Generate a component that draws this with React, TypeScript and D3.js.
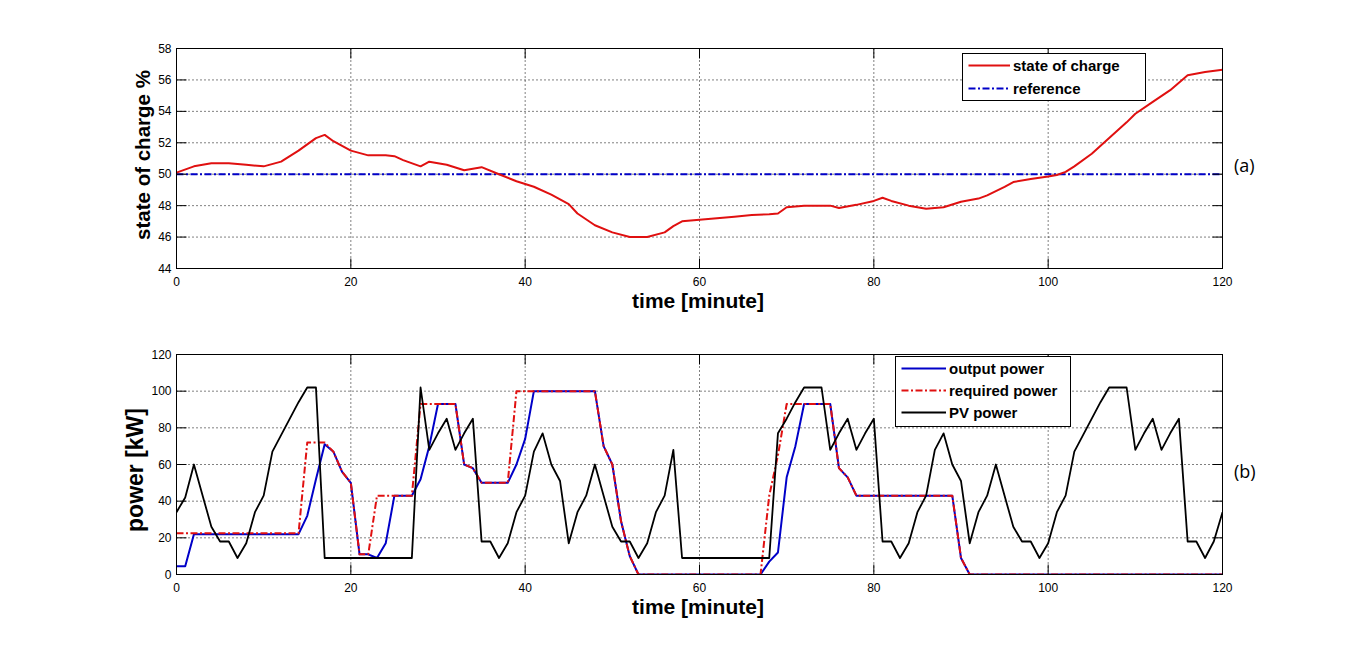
import React from "react";
import * as d3 from "d3";

// state of charge (panel a)
const socMinutes = [0, 2, 4, 6, 8, 10, 12, 14, 16, 17, 18, 20, 22, 24, 25, 26, 28, 29, 31, 33, 35, 37, 39, 41, 43, 45, 46, 48, 50, 52, 54, 56, 57, 58, 60, 62, 64, 66, 68, 69, 70, 72, 74, 75, 76, 78, 80, 81, 82, 84, 86, 88, 90, 92, 93, 95, 96, 98, 100, 101, 102, 103, 105, 107, 109, 110, 112, 114, 116, 118, 120];
const socValues = [50.1, 50.5, 50.7, 50.7, 50.6, 50.5, 50.8, 51.5, 52.3, 52.5, 52.1, 51.5, 51.2, 51.2, 51.15, 50.9, 50.5, 50.8, 50.6, 50.25, 50.45, 50.0, 49.55, 49.2, 48.7, 48.1, 47.5, 46.75, 46.3, 46.0, 46.0, 46.3, 46.7, 47.0, 47.1, 47.2, 47.3, 47.4, 47.45, 47.5, 47.9, 48.0, 48.0, 48.0, 47.85, 48.05, 48.3, 48.5, 48.3, 48.0, 47.8, 47.9, 48.25, 48.45, 48.65, 49.2, 49.5, 49.7, 49.85, 49.95, 50.15, 50.5, 51.3, 52.3, 53.3, 53.85, 54.6, 55.35, 56.3, 56.5, 56.65];
const socReference = 50;

// power (panel b), one value per minute 0..120
const outputPower = [4.5, 4.5, 22, 22, 22, 22, 22, 22, 22, 22, 22, 22, 22, 22, 22, 32, 52, 71, 67, 56, 50, 11, 11, 9, 17, 43, 43, 43, 52, 70, 93, 93, 93, 60, 58, 50, 50, 50, 50, 60, 74, 100, 100, 100, 100, 100, 100, 100, 100, 70, 60, 29, 10, 0, 0, 0, 0, 0, 0, 0, 0, 0, 0, 0, 0, 0, 0, 0, 7, 12, 53, 70, 93, 93, 93, 93, 58, 53, 43, 43, 43, 43, 43, 43, 43, 43, 43, 43, 43, 43, 9, 0, 0, 0, 0, 0, 0, 0, 0, 0, 0, 0, 0, 0, 0, 0, 0, 0, 0, 0, 0, 0, 0, 0, 0, 0, 0, 0, 0, 0, 0];
const requiredPower = [22.5, 22.5, 22.5, 22.5, 22.5, 22.5, 22.5, 22.5, 22.5, 22.5, 22.5, 22.5, 22.5, 22.5, 22.5, 72, 72, 72, 67, 56, 50, 11, 11, 43, 43, 43, 43, 43, 93, 93, 93, 93, 93, 60, 58, 50, 50, 50, 50, 100, 100, 100, 100, 100, 100, 100, 100, 100, 100, 70, 60, 29, 10, 0, 0, 0, 0, 0, 0, 0, 0, 0, 0, 0, 0, 0, 0, 0, 43, 65, 93, 93, 93, 93, 93, 93, 58, 53, 43, 43, 43, 43, 43, 43, 43, 43, 43, 43, 43, 43, 9, 0, 0, 0, 0, 0, 0, 0, 0, 0, 0, 0, 0, 0, 0, 0, 0, 0, 0, 0, 0, 0, 0, 0, 0, 0, 0, 0, 0, 0, 0];
const pvPower = [34, 42, 60, 43, 26, 18, 18, 9, 17, 34, 43, 67, 76, 85, 94, 102, 102, 9, 9, 9, 9, 9, 9, 9, 9, 9, 9, 9, 102, 68, 77, 85, 68, 77, 85, 18, 18, 9, 17, 34, 43, 67, 77, 60, 51, 17, 34, 43, 60, 43, 26, 18, 18, 9, 17, 34, 43, 68, 9, 9, 9, 9, 9, 9, 9, 9, 9, 9, 9, 77, 85, 94, 102, 102, 102, 68, 77, 85, 68, 77, 85, 18, 18, 9, 17, 34, 43, 68, 77, 60, 51, 17, 34, 43, 60, 43, 26, 18, 18, 9, 17, 34, 43, 67, 76, 85, 94, 102, 102, 102, 68, 77, 85, 68, 77, 85, 18, 18, 9, 18, 34];
const powerMinutes = outputPower.map((_, i) => i);

const timeTicks = [0, 20, 40, 60, 80, 100, 120];
const socTicks = [44, 46, 48, 50, 52, 54, 56, 58];
const powerTicks = [0, 20, 40, 60, 80, 100, 120];

const W = 1351;
const H = 645;
const left = 176.5;
const right = 1222.5;
const sans = "'Liberation Sans', Arial, sans-serif";
const RED = "#e01010";
const BLUE = "#0000c8";
const DASHDOT = "7,2.5,2,2.5";

type PanelProps = {
  top: number;
  bottom: number;
  yDomain: [number, number];
  yTicks: number[];
  yLabel: string;
  yLabelSize: number;
  yLabelX: number;
  yLabelY: number;
  tag: string;
  children: (x: d3.ScaleLinear<number, number>, y: d3.ScaleLinear<number, number>) => React.ReactNode;
};

const Panel = ({ top, bottom, yDomain, yTicks, yLabel, yLabelSize, yLabelX, yLabelY, tag, children }: PanelProps) => {
  const x = d3.scaleLinear().domain([0, 120]).range([left, right]);
  const y = d3.scaleLinear().domain(yDomain).range([bottom, top]);
  const tl = 10;
  const mid = (top + bottom) / 2;
  return (
    <g>
      {/* grid */}
      <g stroke="#000" strokeWidth={1} strokeDasharray="1,3">
        {timeTicks.slice(1, -1).map((t) => (
          <line key={"gx" + t} x1={x(t)} x2={x(t)} y1={top} y2={bottom} />
        ))}
        {yTicks.slice(1, -1).map((t) => (
          <line key={"gy" + t} x1={left} x2={right} y1={y(t)} y2={y(t)} />
        ))}
      </g>
      <g clipPath={`url(#clip-${tag})`}>{children(x, y)}</g>
      <clipPath id={`clip-${tag}`}>
        <rect x={left} y={top} width={right - left} height={bottom - top} />
      </clipPath>
      {/* box and ticks */}
      <rect x={left} y={top} width={right - left} height={bottom - top} fill="none" stroke="#000" strokeWidth={1} />
      <g stroke="#000" strokeWidth={1}>
        {timeTicks.map((t) => (
          <g key={"tx" + t}>
            <line x1={x(t)} x2={x(t)} y1={bottom} y2={bottom - tl} />
            <line x1={x(t)} x2={x(t)} y1={top} y2={top + tl} />
          </g>
        ))}
        {yTicks.map((t) => (
          <g key={"ty" + t}>
            <line x1={left} x2={left + tl} y1={y(t)} y2={y(t)} />
            <line x1={right} x2={right - tl} y1={y(t)} y2={y(t)} />
          </g>
        ))}
      </g>
      <g fontFamily={sans} fontSize={12} fill="#000">
        {timeTicks.map((t) => (
          <text key={"lx" + t} x={x(t)} y={bottom + 17} textAnchor="middle">
            {t}
          </text>
        ))}
        {yTicks.map((t) => (
          <text key={"ly" + t} x={left - 5} y={y(t) + 4} textAnchor="end">
            {t}
          </text>
        ))}
      </g>
      <text x={698} y={bottom + 39} textAnchor="middle" fontFamily={sans} fontWeight="bold" fontSize={21}>
        time [minute]
      </text>
      <text
        transform={`translate(${yLabelX},${yLabelY}) rotate(-90)`}
        textAnchor="middle"
        fontFamily={sans}
        fontWeight="bold"
        fontSize={yLabelSize}
      >
        {yLabel}
      </text>
      <text x={1234} y={mid + 13} fontFamily="'Open Sans', sans-serif" fontSize={18}>
        ({tag})
      </text>
    </g>
  );
};

type LegendItem = { label: string; color: string; dash?: string };

const Legend = ({ x, y, w, h, x2, items, rowGap }: { x: number; y: number; w: number; h: number; x2: number; items: LegendItem[]; rowGap: number }) => (
  <g>
    <rect x={x} y={y} width={w} height={h} fill="#fff" stroke="#000" strokeWidth={1} />
    {items.map((it, i) => {
      const cy = y + 12 + i * rowGap;
      return (
        <g key={it.label}>
          <line x1={x + 6} x2={x2} y1={cy} y2={cy} stroke={it.color} strokeWidth={2} strokeDasharray={it.dash} />
          <text x={x2 + 3} y={cy + 5} fontFamily={sans} fontWeight="bold" fontSize={15}>
            {it.label}
          </text>
        </g>
      );
    })}
  </g>
);

export default function App() {
  return (
    <svg width={W} height={H} style={{ position: "absolute", left: 0, top: 0, background: "#fff" }}>
      <rect width={W} height={H} fill="#fff" />
      <Panel
        top={48.5}
        bottom={268.5}
        yDomain={[44, 58]}
        yTicks={socTicks}
        yLabel="state of charge %"
        yLabelSize={20.5}
        yLabelX={150}
        yLabelY={155}
        tag="a"
      >
        {(x, y) => {
          const soc = d3
            .line<number>()
            .x((_, i) => x(socMinutes[i]))
            .y((d) => y(d));
          return (
            <g fill="none">
              <line x1={x(0)} x2={x(120)} y1={y(socReference)} y2={y(socReference)} stroke={BLUE} strokeWidth={2} strokeDasharray={DASHDOT} />
              <path d={soc(socValues) || ""} stroke={RED} strokeWidth={2} strokeLinejoin="round" />
            </g>
          );
        }}
      </Panel>
      <Panel
        top={354.5}
        bottom={574.5}
        yDomain={[0, 120]}
        yTicks={powerTicks}
        yLabel="power [kW]"
        yLabelSize={23}
        yLabelX={143}
        yLabelY={470}
        tag="b"
      >
        {(x, y) => {
          const ln = d3
            .line<number>()
            .x((_, i) => x(powerMinutes[i]))
            .y((d) => y(d));
          return (
            <g fill="none" strokeLinejoin="round">
              <path d={ln(outputPower) || ""} stroke={BLUE} strokeWidth={2} />
              <path d={ln(requiredPower) || ""} stroke={RED} strokeWidth={2} strokeDasharray={DASHDOT} />
              <path d={ln(pvPower) || ""} stroke="#000" strokeWidth={1.8} />
            </g>
          );
        }}
      </Panel>
      <Legend
        x={962.5}
        y={53.5}
        w={183}
        h={47}
        x2={1010}
        rowGap={23}
        items={[
          { label: "state of charge", color: RED },
          { label: "reference", color: BLUE, dash: DASHDOT },
        ]}
      />
      <Legend
        x={895.5}
        y={356.5}
        w={175}
        h={70}
        x2={946}
        rowGap={22}
        items={[
          { label: "output power", color: BLUE },
          { label: "required power", color: RED, dash: DASHDOT },
          { label: "PV power", color: "#000" },
        ]}
      />
    </svg>
  );
}
